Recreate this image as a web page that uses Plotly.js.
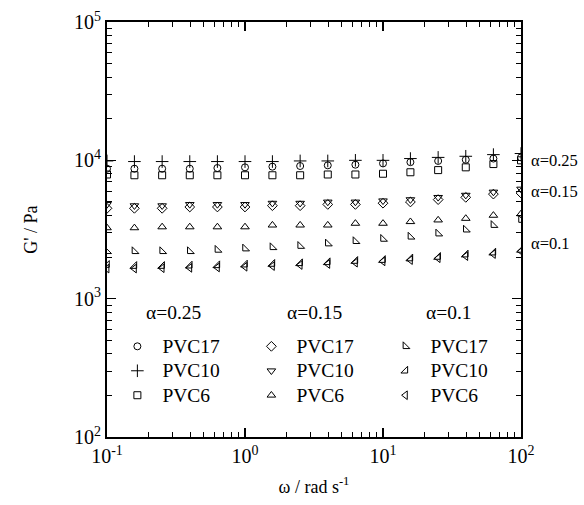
<!DOCTYPE html>
<html>
<head>
<meta charset="utf-8">
<script src="https://cdn.plot.ly/plotly-3.0.1.min.js"></script>
<style>html,body{margin:0;padding:0;background:#fff;}#chart{width:584px;height:505px;}</style>
</head>
<body>
<div id="chart"></div>
<script>
// angular frequency (rad/s)
const omega = [0.1, 0.158, 0.251, 0.398, 0.631, 1, 1.58, 2.51, 3.98, 6.31, 10, 15.8, 25.1, 39.8, 63.1, 100];
// alpha = 0.25
const pvc17_a025 = [8700, 8700, 8700, 8700, 8800, 8900, 9000, 9100, 9200, 9300, 9500, 9700, 9900, 10100, 10300, 10500];
const pvc10_a025 = [9900, 9800, 9800, 9800, 9800, 9800, 9800, 9900, 9900, 10000, 10000, 10300, 10500, 10700, 11000, 11200];
const pvc6_a025  = [7900, 7800, 7800, 7800, 7800, 7800, 7800, 7800, 7900, 7900, 8000, 8200, 8500, 8900, 9400, 10000];
// alpha = 0.15
const pvc17_a015 = [4500, 4500, 4500, 4600, 4600, 4600, 4700, 4700, 4800, 4800, 4900, 5000, 5200, 5400, 5700, 5800];
const pvc10_a015 = [4800, 4700, 4700, 4800, 4800, 4800, 4900, 4900, 5000, 5000, 5100, 5200, 5400, 5600, 5900, 6200];
const pvc6_a015  = [3250, 3250, 3300, 3300, 3300, 3300, 3400, 3400, 3400, 3500, 3500, 3600, 3700, 3800, 4000, 4100];
// alpha = 0.1
const pvc17_a01 = [2200, 2200, 2200, 2200, 2250, 2300, 2350, 2400, 2500, 2600, 2700, 2800, 2950, 3150, 3400, 3700];
const pvc10_a01 = [1750, 1720, 1720, 1730, 1740, 1760, 1780, 1800, 1830, 1870, 1900, 1950, 2000, 2080, 2150, 2250];
const pvc6_a01  = [1650, 1650, 1660, 1670, 1680, 1700, 1720, 1750, 1780, 1820, 1860, 1900, 1960, 2030, 2100, 2200];

const seriesNames = ['PVC17', 'PVC10', 'PVC6'];
const alphaLabels = ['α=0.25', 'α=0.15', 'α=0.1'];
const xTickVals = [0.1, 1, 10, 100];
const xTickText = ['10<sup>-1</sup>', '10<sup>0</sup>', '10<sup>1</sup>', '10<sup>2</sup>'];
const yTickVals = [100, 1000, 10000, 100000];
const yTickText = ['10<sup>2</sup>', '10<sup>3</sup>', '10<sup>4</sup>', '10<sup>5</sup>'];

const FONT = 'Liberation Serif';

function tr(y, name, symbol, size) {
  return {
    x: omega, y: y, type: 'scatter', mode: 'markers',
    name: '<span style="font-size:19.5px">' + name + '</span>',
    marker: {symbol: symbol, size: size || 7, color: 'black', line: {color: 'black', width: 1}},
    showlegend: true
  };
}
// ordered row-wise for a 3-column horizontal legend
const data = [
  tr(pvc17_a025, seriesNames[0], 'circle-open', 7),
  tr(pvc17_a015, seriesNames[0], 'diamond-open', 7.5),
  tr(pvc17_a01,  seriesNames[0], 'triangle-sw-open', 7.5),
  tr(pvc10_a025, seriesNames[1], 'cross-thin-open', 9),
  tr(pvc10_a015, seriesNames[1], 'triangle-down-open', 7.5),
  tr(pvc10_a01,  seriesNames[1], 'triangle-se-open', 7.5),
  tr(pvc6_a025,  seriesNames[2], 'square-open', 7),
  tr(pvc6_a015,  seriesNames[2], 'triangle-up-open', 7.5),
  tr(pvc6_a01,   seriesNames[2], 'triangle-left-open', 7.5)
];

const axisCommon = {
  type: 'log', showgrid: false, zeroline: false, showline: true, linecolor: 'black', linewidth: 2,
  mirror: 'ticks', ticks: 'inside', ticklen: 9, tickwidth: 1.5, tickcolor: 'black',
  tickfont: {family: FONT, size: 20, color: 'black'},
  minor: {ticks: 'inside', ticklen: 5, tickwidth: 1, tickcolor: 'black', dtick: 'D1', showgrid: false},
  tickmode: 'array'
};

const layout = {
  width: 584, height: 505,
  margin: {l: 107, r: 63, t: 22, b: 68},
  paper_bgcolor: 'white', plot_bgcolor: 'white',
  font: {family: FONT, color: 'black'},
  showlegend: true,
  legend: {
    orientation: 'h', x: 0.013, y: 0.26, xanchor: 'left', yanchor: 'top',
    font: {family: FONT, size: 16.5, color: 'black'},
    itemwidth: 40,
    entrywidth: 79, entrywidthmode: 'pixels',
    bgcolor: 'rgba(0,0,0,0)', borderwidth: 0, itemclick: false
  },
  xaxis: Object.assign({}, axisCommon, {
    range: [-1, 2], tickvals: xTickVals, ticktext: xTickText,
    title: {text: 'ω / rad s<sup>-1</sup>', font: {family: FONT, size: 18, color: 'black'}, standoff: 14}
  }),
  yaxis: Object.assign({}, axisCommon, {
    range: [2, 5], tickvals: yTickVals, ticktext: yTickText,
    title: {text: "G' / Pa", font: {family: FONT, size: 18, color: 'black'}, standoff: 32}
  }),
  annotations: [
    {text: alphaLabels[0], xref: 'paper', yref: 'paper', x: 0.16, y: 0.30, showarrow: false, xanchor: 'center', yanchor: 'middle', font: {family: FONT, size: 19.5}},
    {text: alphaLabels[1], xref: 'paper', yref: 'paper', x: 0.502, y: 0.30, showarrow: false, xanchor: 'center', yanchor: 'middle', font: {family: FONT, size: 19.5}},
    {text: alphaLabels[2], xref: 'paper', yref: 'paper', x: 0.826, y: 0.30, showarrow: false, xanchor: 'center', yanchor: 'middle', font: {family: FONT, size: 19.5}},
    {text: alphaLabels[0], xref: 'paper', yref: 'y', x: 1.02, y: Math.log10(pvc6_a025[15]), showarrow: false, xanchor: 'left', font: {family: FONT, size: 16.5}},
    {text: alphaLabels[1], xref: 'paper', yref: 'y', x: 1.02, y: Math.log10(pvc10_a015[15]) - 0.02, showarrow: false, xanchor: 'left', font: {family: FONT, size: 16.5}},
    {text: alphaLabels[2], xref: 'paper', yref: 'y', x: 1.02, y: Math.log10(pvc10_a01[15]) + 0.05, showarrow: false, xanchor: 'left', font: {family: FONT, size: 16.5}}
  ]
};

Plotly.newPlot('chart', data, layout, {staticPlot: true, displayModeBar: false});
</script>
</body>
</html>
